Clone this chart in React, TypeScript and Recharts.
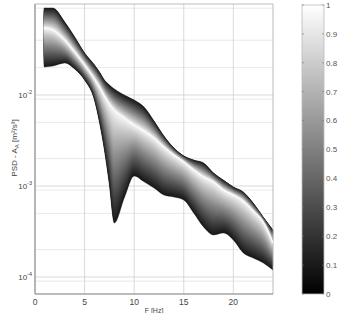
import { ComposedChart, Area, Line, XAxis, YAxis, CartesianGrid, ReferenceArea } from 'recharts'

// frequency (Hz) and PSD envelope
const freq = [0.9, 1.8, 3, 4, 5, 6, 6.5, 7, 7.5, 8, 9, 10, 11, 12, 13, 14, 15, 16, 17, 18, 19, 20, 21, 22, 23, 24]
const upperPsd = [
  0.0904, 0.0904, 0.0634, 0.0434, 0.029, 0.0214, 0.0179, 0.0146, 0.0129, 0.01164, 0.01, 0.00881, 0.00738,
  0.00518, 0.00354, 0.00262, 0.00214, 0.00193, 0.00179, 0.00139, 0.00116, 0.000975, 0.000859, 0.00065, 0.000456, 0.000328,
]
const medianPsd = [
  0.0545, 0.0518, 0.0402, 0.0297, 0.0214, 0.015, 0.01225, 0.00975, 0.00796, 0.00684, 0.00558, 0.00468, 0.00402,
  0.00337, 0.00268, 0.00219, 0.00184, 0.0015, 0.00126, 0.00111, 0.000904, 0.000796, 0.000684, 0.000531, 0.000402, 0.000237,
]
const lowerPsd = [
  0.0203, 0.0208, 0.0225, 0.0193, 0.0146, 0.00881, 0.00505, 0.00249, 0.00103, 0.000392, 0.000738, 0.00129, 0.00111,
  0.000951, 0.000796, 0.000757, 0.000702, 0.000505, 0.000354, 0.00029, 0.000305, 0.000255, 0.000184, 0.000162, 0.000143, 0.000119,
]

const xTicks = [0, 5, 10, 15, 20]
const yTicks = [1e-4, 1e-3, 1e-2]
const minorSteps = [2, 3, 4, 5, 6, 7, 8, 9]
const colorTicks = [0, 0.1, 0.2, 0.3, 0.4, 0.5, 0.6, 0.7, 0.8, 0.9, 1]

const Y_MIN = 6.5e-5
const Y_MAX = 0.1
const LAYERS = 44

const minorGrid = [1e-5, 1e-4, 1e-3, 1e-2]
  .flatMap(d => minorSteps.map(m => m * d))
  .filter(v => v > Y_MIN && v < Y_MAX)

// shading levels of the ribbon, from the median out to the envelope (log space)
const rows = freq.map((f, i) => {
  const row: Record<string, number> = { f, median: medianPsd[i] }
  const c = Math.log10(medianPsd[i])
  const lo = Math.log10(lowerPsd[i])
  const hi = Math.log10(upperPsd[i])
  for (let k = 1; k <= LAYERS; k++) {
    const t = k / LAYERS
    row[`lo${k}`] = Math.pow(10, c + t * (lo - c))
    row[`hi${k}`] = Math.pow(10, c + t * (hi - c))
  }
  return row
})

const layers = Array.from({ length: LAYERS }, (_, i) => LAYERS - i)

const shade = (t: number) => {
  const g = Math.round(252 - 228 * Math.pow(t, 0.85))
  return `rgb(${g},${g},${g})`
}

const font = '"Liberation Sans", Arial, sans-serif'

const PowTick = ({ x, y, payload }: any) => {
  const exp = Math.round(Math.log10(payload.value))
  return (
    <text x={x} y={y} dy="0.35em" textAnchor="end" fontSize={8} fill="#444" fontFamily={font}>
      10<tspan dy={-4} fontSize={5.5}>{exp}</tspan>
    </text>
  )
}

const YLabel = ({ viewBox }: any) => {
  const cy = viewBox.y + viewBox.height / 2 - 1
  const cx = 17
  return (
    <text x={cx} y={cy} transform={`rotate(-90 ${cx} ${cy})`} textAnchor="middle" fontSize={8} fill="#444" fontFamily={font}>
      PSD - A<tspan dy={2} fontSize={6}>A</tspan>
      <tspan dy={-2}> [m²/s³]</tspan>
    </text>
  )
}

function ColorBar() {
  const top = 5
  const h = 289
  return (
    <svg width={59} height={313} style={{ position: 'absolute', left: 280, top: 0 }}>
      <defs>
        <linearGradient id="cbar" x1="0" y1="1" x2="0" y2="0">
          <stop offset="0%" stopColor="#000" />
          <stop offset="100%" stopColor="#fff" />
        </linearGradient>
      </defs>
      <rect x={22} y={top} width={22} height={h} fill="url(#cbar)" stroke="#bbb" strokeWidth={0.8} />
      {colorTicks.map(v => {
        const y = top + h - v * h
        return (
          <g key={v}>
            <line x1={22} x2={24} y1={y} y2={y} stroke="#777" strokeWidth={0.6} />
            <line x1={42} x2={44} y1={y} y2={y} stroke="#777" strokeWidth={0.6} />
            <text x={46} y={y} dy="0.35em" fontSize={8} fill="#555" fontFamily={font}>{v}</text>
          </g>
        )
      })}
    </svg>
  )
}

export default function App() {
  return (
    <div style={{ position: 'absolute', left: 0, top: 0, width: 339, height: 313, background: '#fff' }}>
      <ComposedChart width={280} height={313} data={rows} margin={{ top: 4, right: 7, left: 0, bottom: 0 }}>
        <CartesianGrid horizontalValues={minorGrid} vertical={false} stroke="#e3e3e3" strokeWidth={0.8} />
        <CartesianGrid horizontalValues={yTicks} verticalValues={xTicks} stroke="#cfcfcf" strokeWidth={0.8} />
        <XAxis
          dataKey="f"
          type="number"
          domain={[0, 24]}
          ticks={xTicks}
          height={19}
          tickSize={0}
          tickMargin={5}
          tick={{ fontSize: 8.5, fill: '#444', fontFamily: font }}
          axisLine={{ stroke: '#999' }}
          label={{ value: 'F [Hz]', position: 'insideBottom', offset: 0, fontSize: 7, fill: '#444', fontFamily: font }}
        />
        <YAxis
          scale="log"
          domain={[Y_MIN, Y_MAX]}
          allowDataOverflow
          ticks={yTicks}
          width={35}
          tickSize={0}
          tickMargin={3}
          tick={<PowTick />}
          axisLine={{ stroke: '#999' }}
          label={<YLabel />}
        />
        {layers.map(k => (
          <Area
            key={k}
            type="monotoneX"
            dataKey={(d: any) => [d[`lo${k}`], d[`hi${k}`]]}
            stroke={shade(k / LAYERS)}
            strokeWidth={0.4}
            fill={shade(k / LAYERS)}
            fillOpacity={1}
            isAnimationActive={false}
            activeDot={false}
          />
        ))}
        <Line type="monotoneX" dataKey="median" stroke="#fff" strokeWidth={1} dot={false} isAnimationActive={false} />
        <ReferenceArea x1={0} x2={24} y1={Y_MIN} y2={Y_MAX} fill="none" stroke="#aaa" strokeWidth={0.8} ifOverflow="visible" />
      </ComposedChart>
      <ColorBar />
    </div>
  )
}
